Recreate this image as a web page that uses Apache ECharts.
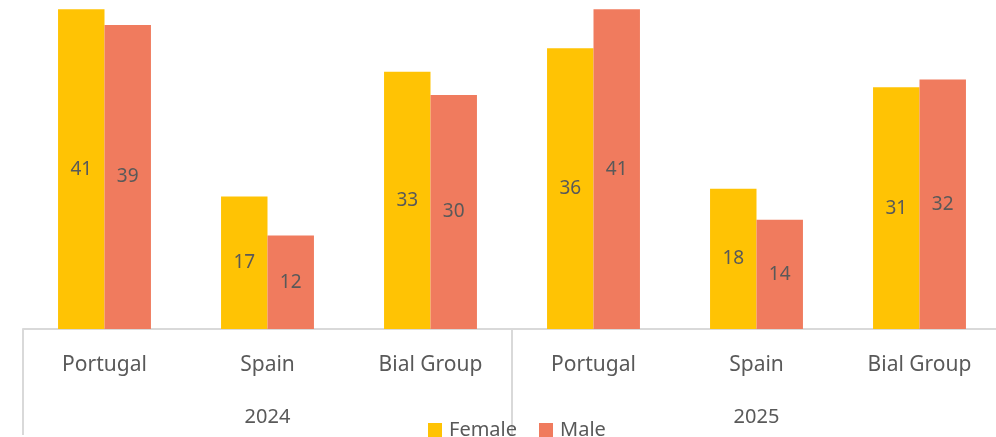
<!DOCTYPE html>
<html>
<head>
<meta charset="utf-8">
<script src="https://cdn.jsdelivr.net/npm/echarts@6/dist/echarts.min.js"></script>
<style>
  html, body { margin: 0; padding: 0; background: #ffffff; overflow: hidden; }
  #chart { width: 1010px; height: 437px; }
</style>
</head>
<body>
<div id="chart"></div>
<script>
// Inner-level categories (country / group) and outer-level years
const categories = ['Portugal', 'Spain', 'Bial Group', 'Portugal', 'Spain', 'Bial Group'];
const years = ['2024', '2025'];
const femaleValues = [41, 17, 33, 36, 18, 31];
const maleValues = [39, 12, 30, 41, 14, 32];
const seriesNames = ['Female', 'Male'];

const FONT = '"Noto Sans", sans-serif';
const TEXT = '#595959';
const LINE = '#d9d9d9';

const chart = echarts.init(document.getElementById('chart'), null, { renderer: 'canvas' });

const labelStyle = {
  show: true,
  position: 'inside',
  color: TEXT,
  fontSize: 19,
  fontFamily: FONT
};

chart.setOption({
  animation: false,
  grid: { left: 23, right: 9, top: 0, bottom: 108, containLabel: false },
  legend: {
    data: seriesNames,
    left: 423,
    top: 415,
    itemWidth: 14,
    itemHeight: 14,
    itemGap: 22,
    icon: 'rect',
    textStyle: { color: TEXT, fontSize: 20, fontFamily: FONT, padding: [0, 0, 0, 2] }
  },
  xAxis: [
    {
      type: 'category',
      data: categories,
      position: 'bottom',
      axisLine: { show: true, lineStyle: { color: LINE, width: 2 } },
      axisTick: { show: false },
      axisLabel: { color: TEXT, fontSize: 21, fontFamily: FONT, margin: 26, interval: 0 }
    },
    {
      type: 'category',
      data: years,
      position: 'bottom',
      axisLine: { show: false },
      axisTick: { show: true, length: 106, lineStyle: { color: LINE, width: 2 } },
      axisLabel: { color: TEXT, fontSize: 20, fontFamily: FONT, margin: 78 }
    }
  ],
  yAxis: {
    type: 'value',
    min: 0,
    max: 42.2,
    show: false,
    splitLine: { show: false }
  },
  series: [
    {
      name: seriesNames[0],
      type: 'bar',
      xAxisIndex: 0,
      data: femaleValues,
      barGap: '0%',
      barCategoryGap: '43%',
      itemStyle: { color: '#FFC304' },
      label: labelStyle
    },
    {
      name: seriesNames[1],
      type: 'bar',
      xAxisIndex: 0,
      data: maleValues,
      barGap: '0%',
      barCategoryGap: '43%',
      itemStyle: { color: '#F07B5E' },
      label: labelStyle
    }
  ]
});
</script>
</body>
</html>
